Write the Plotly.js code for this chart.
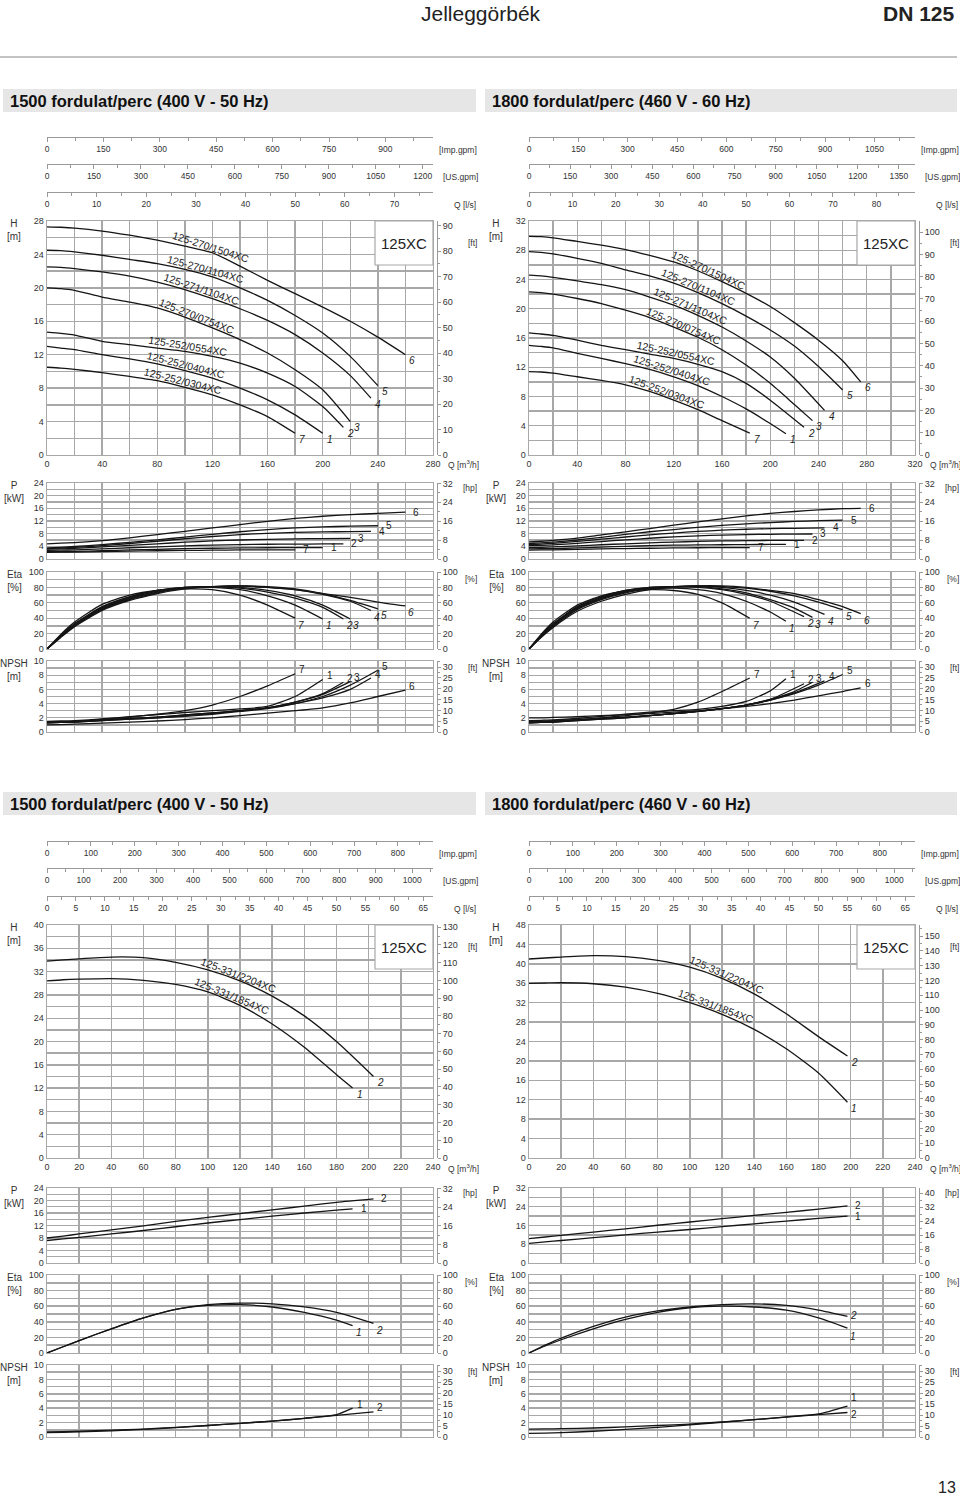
<!DOCTYPE html>
<html>
<head>
<meta charset="utf-8">
<script src="https://cdn.plot.ly/plotly-3.0.1.min.js"></script>
<style>
  body { margin: 0; background: #fff; }
  #chart { width: 960px; height: 1497px; }
</style>
</head>
<body>
<div id="chart"></div>
<script>
//----------------------------------DATA----------------------------------//

// curve numbers as printed at the curve ends
const ids27 = [1, 2, 3, 4, 5, 6, 7];
const names27 = ['125-252/0404XC', '125-252/0554XC', '125-270/0754XC', '125-271/1104XC',
                 '125-270/1104XC', '125-270/1504XC', '125-252/0304XC'];

// 1500 rpm (50 Hz) - Q [m3/h], H [m], P [kW], Eta [%], NPSH [m]
const q50 = [
  [0, 10, 20, 40, 60, 80, 100, 120, 140, 160, 180, 200],
  [0, 10, 20, 40, 60, 80, 100, 120, 140, 160, 180, 200, 215],
  [0, 10, 20, 40, 60, 80, 100, 120, 140, 160, 180, 200, 220],
  [0, 10, 20, 40, 60, 80, 100, 120, 140, 160, 180, 200, 220, 235],
  [0, 10, 20, 40, 60, 80, 100, 120, 140, 160, 180, 200, 220, 240],
  [0, 10, 20, 40, 60, 80, 100, 120, 140, 160, 180, 200, 220, 240, 260],
  [0, 10, 20, 40, 60, 80, 100, 120, 140, 160, 180]
];
const h50 = [
  [13.0, 12.8, 12.6, 12.0, 11.5, 10.9, 10.1, 9.2, 8.0, 6.6, 4.8, 2.6],
  [14.7, 14.55, 14.35, 13.6, 13.2, 12.8, 12.4, 11.8, 11.0, 9.8, 8.2, 5.8, 3.3],
  [20.0, 19.9, 19.7, 18.9, 18.3, 17.6, 16.5, 15.2, 13.8, 12.2, 10.2, 7.8, 4.0],
  [22.5, 22.45, 22.3, 21.9, 21.4, 20.7, 19.8, 18.7, 17.5, 16.1, 14.4, 12.2, 9.5, 6.8],
  [24.5, 24.45, 24.3, 23.9, 23.4, 22.9, 22.2, 21.3, 20.0, 18.5, 16.7, 14.6, 11.8, 8.3],
  [27.3, 27.25, 27.15, 26.8, 26.3, 25.7, 25.0, 24.2, 22.6, 20.9, 19.3, 17.7, 16.0, 14.1, 12.0],
  [10.5, 10.4, 10.25, 9.85, 9.4, 8.9, 8.1, 7.2, 6.0, 4.6, 2.6]
];
const p50 = [
  [2.3, 2.35, 2.4, 2.6, 2.85, 3.05, 3.25, 3.4, 3.5, 3.55, 3.6, 3.6],
  [2.7, 2.8, 2.9, 3.2, 3.55, 3.85, 4.15, 4.4, 4.55, 4.65, 4.7, 4.75, 4.8],
  [3.1, 3.2, 3.35, 3.8, 4.3, 4.8, 5.3, 5.7, 6.0, 6.2, 6.35, 6.45, 6.5],
  [3.3, 3.45, 3.65, 4.2, 4.9, 5.6, 6.4, 7.1, 7.7, 8.1, 8.4, 8.55, 8.65, 8.7],
  [3.5, 3.7, 3.95, 4.55, 5.25, 6.05, 6.9, 7.8, 8.6, 9.3, 9.8, 10.15, 10.35, 10.5],
  [4.8, 5.0, 5.2, 5.8, 6.7, 7.7, 8.75, 9.8, 10.85, 11.9, 12.8, 13.5, 14.0, 14.4, 14.8],
  [2.1, 2.15, 2.2, 2.35, 2.5, 2.6, 2.7, 2.8, 2.85, 2.9, 2.9]
];
const e50 = [
  [0, 18, 33, 55, 68, 76, 80, 80, 77, 69, 57, 39],
  [0, 17, 32, 54, 67, 76, 80, 81, 79, 74, 66, 54, 39],
  [0, 17, 31, 53, 66, 75, 80, 81, 80, 76, 69, 57, 39],
  [0, 16, 30, 52, 65, 74, 79, 81, 82, 80, 77, 71, 62, 50],
  [0, 16, 30, 51, 64, 73, 79, 81, 82, 81, 78, 72, 63, 52],
  [0, 15, 29, 50, 63, 72, 78, 81, 82, 80, 77, 72, 67, 61, 56],
  [0, 19, 35, 58, 70, 76, 78, 77, 70, 57, 40]
];
const n50 = [
  [1.5, 1.55, 1.6, 1.85, 2.15, 2.45, 2.75, 3.0, 3.25, 3.6, 5.0, 7.4],
  [1.4, 1.45, 1.5, 1.7, 1.9, 2.1, 2.4, 2.7, 3.0, 3.4, 4.2, 5.4, 7.0],
  [1.4, 1.45, 1.5, 1.7, 1.9, 2.1, 2.4, 2.7, 3.0, 3.4, 4.2, 5.3, 7.1],
  [1.3, 1.35, 1.4, 1.6, 1.8, 2.0, 2.3, 2.6, 3.0, 3.4, 4.0, 4.8, 6.0, 7.6],
  [1.3, 1.35, 1.4, 1.6, 1.8, 2.0, 2.2, 2.5, 2.9, 3.3, 4.0, 5.0, 6.6, 8.7],
  [1.0, 1.05, 1.1, 1.25, 1.4, 1.55, 1.75, 2.0, 2.3, 2.65, 3.0, 3.4, 4.1, 5.0, 5.9],
  [1.3, 1.35, 1.4, 1.8, 2.1, 2.5, 3.0, 3.8, 5.0, 6.5, 8.2]
];

// 1800 rpm (60 Hz)
const q60 = [
  [0, 10, 20, 40, 60, 80, 100, 120, 140, 160, 180, 200, 213],
  [0, 10, 20, 40, 60, 80, 100, 120, 140, 160, 180, 200, 228],
  [0, 10, 20, 40, 60, 80, 100, 120, 140, 160, 180, 200, 220, 235],
  [0, 10, 20, 40, 60, 80, 100, 120, 140, 160, 180, 200, 220, 245],
  [0, 10, 20, 40, 60, 80, 100, 120, 140, 160, 180, 200, 220, 240, 260],
  [0, 10, 20, 40, 60, 80, 100, 120, 140, 160, 180, 200, 220, 240, 260, 275],
  [0, 10, 20, 40, 60, 80, 100, 120, 140, 160, 183]
];
const h60 = [
  [15.0, 14.85, 14.65, 13.9, 13.2, 12.5, 11.7, 10.7, 9.5, 8.0, 6.3, 4.3, 2.9],
  [16.7, 16.55, 16.35, 15.7, 15.0, 14.4, 13.8, 13.2, 12.4, 11.4, 9.8, 7.5, 3.8],
  [22.3, 22.2, 22.0, 21.4, 20.7, 19.8, 18.8, 17.5, 16.1, 14.4, 12.3, 9.8, 6.9, 4.7],
  [24.6, 24.5, 24.3, 23.8, 23.3, 22.6, 21.6, 20.5, 19.1, 17.5, 15.6, 13.4, 10.5, 6.1],
  [27.8, 27.7, 27.5, 26.9, 26.2, 25.3, 24.5, 23.5, 22.2, 20.7, 19.0, 17.1, 14.9, 12.1, 8.9],
  [29.9, 29.85, 29.7, 29.2, 28.7, 28.1, 27.3, 26.4, 25.2, 23.7, 22.1, 20.3, 18.1, 15.7, 12.9, 10.0],
  [11.4, 11.35, 11.2, 10.7, 10.2, 9.6, 8.7, 7.5, 6.2, 4.7, 3.0]
];
const p60 = [
  [3.2, 3.25, 3.3, 3.5, 3.75, 4.0, 4.2, 4.35, 4.45, 4.5, 4.55, 4.6, 4.6],
  [3.6, 3.7, 3.8, 4.15, 4.5, 4.8, 5.1, 5.35, 5.55, 5.7, 5.8, 5.85, 5.9],
  [4.2, 4.3, 4.45, 4.95, 5.5, 6.05, 6.55, 7.0, 7.3, 7.55, 7.7, 7.8, 7.85, 7.9],
  [4.5, 4.7, 4.95, 5.55, 6.25, 6.95, 7.6, 8.2, 8.7, 9.1, 9.4, 9.6, 9.7, 9.8],
  [4.9, 5.1, 5.35, 6.0, 6.85, 7.75, 8.6, 9.3, 10.0, 10.6, 11.1, 11.5, 11.85, 12.1, 12.3],
  [5.4, 5.6, 5.9, 6.6, 7.6, 8.6, 9.6, 10.7, 11.7, 12.7, 13.6, 14.4, 15.0, 15.5, 15.9, 16.0],
  [2.8, 2.85, 2.9, 3.05, 3.2, 3.3, 3.4, 3.5, 3.55, 3.6, 3.6]
];
const e60 = [
  [0, 18, 33, 55, 68, 76, 79, 79, 77, 72, 62, 48, 36],
  [0, 17, 32, 54, 67, 76, 80, 81, 80, 77, 71, 62, 42],
  [0, 17, 31, 53, 66, 75, 80, 81, 81, 78, 73, 64, 53, 41],
  [0, 16, 30, 52, 65, 74, 79, 81, 82, 80, 76, 70, 61, 45],
  [0, 16, 29, 51, 64, 73, 78, 81, 82, 81, 79, 75, 69, 61, 51],
  [0, 15, 28, 49, 62, 71, 77, 80, 82, 82, 80, 76, 72, 64, 55, 46],
  [0, 19, 35, 57, 69, 75, 77, 76, 71, 60, 40]
];
const n60 = [
  [1.6, 1.65, 1.7, 1.9, 2.2, 2.5, 2.8, 3.0, 3.2, 3.6, 4.3, 5.8, 7.5],
  [1.3, 1.35, 1.4, 1.6, 1.8, 2.0, 2.3, 2.6, 2.9, 3.3, 3.8, 4.6, 6.8],
  [1.3, 1.35, 1.4, 1.6, 1.8, 2.0, 2.3, 2.6, 2.9, 3.3, 3.8, 4.6, 5.7, 7.0],
  [1.4, 1.45, 1.5, 1.7, 1.9, 2.1, 2.3, 2.6, 2.9, 3.3, 3.8, 4.5, 5.5, 7.2],
  [1.5, 1.55, 1.6, 1.75, 1.9, 2.1, 2.3, 2.6, 2.9, 3.3, 3.8, 4.5, 5.4, 6.6, 8.1],
  [2.0, 2.0, 2.05, 2.15, 2.3, 2.45, 2.6, 2.8, 3.0, 3.3, 3.6, 4.0, 4.5, 5.1, 5.7, 6.2],
  [1.3, 1.35, 1.4, 1.7, 2.0, 2.3, 2.7, 3.2, 4.2, 5.7, 7.6]
];

// 125-331 series
const ids331 = [1, 2];
const names331 = ['125-331/1854XC', '125-331/2204XC'];

const q50b = [
  [0, 10, 20, 40, 60, 80, 100, 120, 140, 160, 180, 190],
  [0, 10, 20, 40, 60, 80, 100, 120, 140, 160, 180, 203]
];
const h50b = [
  [30.4, 30.6, 30.7, 30.8, 30.5, 29.8, 28.5, 26.2, 23.0, 19.0, 14.3, 12.0],
  [33.8, 34.0, 34.2, 34.5, 34.4, 33.6, 32.3, 30.4, 27.8, 24.4, 20.0, 14.0]
];
const p50b = [
  [7.2, 7.7, 8.2, 9.3, 10.4, 11.6, 12.8, 13.9, 15.0, 16.0, 16.9, 17.3],
  [8.0, 8.6, 9.3, 10.6, 11.9, 13.3, 14.6, 15.8, 17.0, 18.2, 19.4, 20.5]
];
const e50b = [
  [0, 8, 16, 31, 45, 56, 61, 62, 59, 52, 42, 35],
  [0, 8, 16, 31, 45, 56, 62, 64, 63, 59, 52, 38]
];
const n50b = [
  [0.7, 0.75, 0.8, 0.95, 1.1, 1.35, 1.6, 1.9, 2.2, 2.6, 3.1, 4.0],
  [0.6, 0.65, 0.7, 0.85, 1.05, 1.3, 1.6, 1.9, 2.2, 2.6, 3.0, 3.5]
];

const q60b = [
  [0, 10, 20, 40, 60, 80, 100, 120, 140, 160, 180, 198],
  [0, 10, 20, 40, 60, 80, 100, 120, 140, 160, 180, 198]
];
const h60b = [
  [36.0, 36.05, 36.1, 35.9, 35.2, 33.9, 32.0, 29.6, 26.5, 22.5, 17.5, 11.5],
  [41.0, 41.2, 41.4, 41.7, 41.5, 40.7, 39.3, 37.0, 33.8, 29.7, 25.0, 21.0]
];
const p60b = [
  [8.4, 9.0, 9.6, 10.8, 12.0, 13.2, 14.3, 15.5, 16.7, 17.9, 19.0, 20.0],
  [10.4, 11.1, 11.8, 13.2, 14.6, 16.1, 17.5, 18.9, 20.3, 21.6, 23.0, 24.4]
];
const e60b = [
  [0, 9, 17, 31, 43, 52, 58, 60, 59, 55, 45, 32],
  [0, 10, 19, 34, 46, 54, 59, 62, 63, 61, 55, 47]
];
const n60b = [
  [0.5, 0.55, 0.6, 0.8, 1.05, 1.35, 1.7, 2.05, 2.4, 2.8, 3.2, 4.3],
  [1.1, 1.12, 1.15, 1.25, 1.4, 1.6, 1.8, 2.1, 2.4, 2.75, 3.1, 3.4]
];

// unit conversions for the secondary scales
const M3H_IMP = 3.6662, M3H_US = 4.4029, M3H_LS = 1 / 3.6;
const M_FT = 3.2808, KW_HP = 1.341;

//----------------------------------LAYOUT HELPERS----------------------------------//

const W = 960, HT = 1497;
const fx = v => v / W;
const fy = v => 1 - v / HT;
const GRID = '#a8a8a8', LINE = '#999', INK = '#151515', TXT = '#333';
const FONT = 'Liberation Sans, Arial, sans-serif';

const layout = {
  width: W, height: HT,
  margin: { l: 0, r: 0, t: 0, b: 0 },
  showlegend: false,
  paper_bgcolor: '#fff',
  plot_bgcolor: 'rgba(0,0,0,0)',
  font: { family: FONT, size: 9, color: TXT },
  annotations: [],
  shapes: []
};
const traces = [];
let nx = 0, ny = 0;
const axName = (k, i) => k + 'axis' + (i === 1 ? '' : i);
const axRef = (k, i) => k + (i === 1 ? '' : i);

function text(x, y, t, opt) {
  layout.annotations.push(Object.assign({
    xref: 'paper', yref: 'paper', x: fx(x), y: fy(y), text: t, showarrow: false,
    xanchor: 'center', yanchor: 'middle', font: { size: 9, color: TXT, family: FONT }
  }, opt || {}));
}

function interp(q, v, x) {
  for (let i = 1; i < q.length; i++) {
    if (x <= q[i]) {
      const t = (x - q[i - 1]) / (q[i] - q[i - 1]);
      return v[i - 1] + t * (v[i] - v[i - 1]);
    }
  }
  return v[v.length - 1];
}

// one grid chart with a left axis and a converted right axis
function chart(xl, xr, top, bot, c) {
  const xi = ++nx, yi = ++ny, ri = ++ny;
  const xa = {
    domain: [fx(xl), fx(xr)], anchor: axRef('y', yi), range: [0, c.xMax], tick0: 0, dtick: c.xDt,
    showticklabels: !!c.xLabels, ticks: '', showgrid: true, gridcolor: GRID, gridwidth: 1.4,
    showline: true, mirror: true, linecolor: GRID, linewidth: 1.4, zeroline: false,
    tickfont: { size: 9, color: TXT }, fixedrange: true
  };
  if (c.xMinor) xa.minor = { dtick: c.xMinor, showgrid: true, gridcolor: GRID, gridwidth: 1.4 };
  layout[axName('x', xi)] = xa;

  const ya = {
    domain: [fy(bot), fy(top)], anchor: axRef('x', xi), range: [0, c.yMax], tick0: 0, dtick: c.yDt,
    ticks: '', showgrid: true, gridcolor: GRID, gridwidth: 1.4, zeroline: false,
    showline: true, mirror: true, linecolor: GRID, linewidth: 1.4,
    tickfont: { size: 9, color: TXT }, fixedrange: true
  };
  if (c.yMinor) ya.minor = { dtick: c.yMinor, showgrid: true, gridcolor: GRID, gridwidth: 1.4 };
  layout[axName('y', yi)] = ya;

  layout[axName('y', ri)] = {
    overlaying: axRef('y', yi), side: 'right', anchor: 'free', position: fx(xr + 4),
    range: [0, c.yMax * c.conv], tick0: 0, dtick: c.rDt, showgrid: false, zeroline: false,
    showline: true, linecolor: LINE, linewidth: 1, ticks: 'outside', ticklen: 3, tickcolor: LINE,
    minor: { dtick: c.rMinor, ticks: 'outside', ticklen: 2, tickcolor: LINE },
    tickfont: { size: 9, color: TXT }, fixedrange: true
  };
  traces.push({ x: [], y: [], xaxis: axRef('x', xi), yaxis: axRef('y', ri), hoverinfo: 'skip' });

  return { x: axRef('x', xi), y: axRef('y', yi), kx: (xr - xl) / c.xMax, ky: (bot - top) / c.yMax };
}

// secondary flow scale (Imp.gpm, US.gpm, l/s) drawn as a bare axis line
function scale(xl, xr, yLine, max, dt, minor, label, lx) {
  const xi = ++nx, yi = ++ny;
  layout[axName('x', xi)] = {
    domain: [fx(xl), fx(xr)], anchor: axRef('y', yi), range: [0, max], tick0: 0, dtick: dt,
    showline: true, linecolor: LINE, linewidth: 1, ticks: 'outside', ticklen: 4, tickcolor: LINE,
    minor: { dtick: minor, ticks: 'outside', ticklen: 2.5, tickcolor: LINE },
    showgrid: false, zeroline: false, tickfont: { size: 8.5, color: TXT }, fixedrange: true
  };
  layout[axName('y', yi)] = {
    domain: [fy(yLine), fy(yLine) + 0.001], anchor: axRef('x', xi), visible: false, range: [0, 1], fixedrange: true
  };
  traces.push({ x: [], y: [], xaxis: axRef('x', xi), yaxis: axRef('y', yi), hoverinfo: 'skip' });
  text(lx, yLine + 13, label, { font: { size: 8.5, color: TXT, family: FONT } });
}

function curve(ax, q, v) {
  traces.push({
    type: 'scatter', mode: 'lines', x: q, y: v, xaxis: ax.x, yaxis: ax.y, hoverinfo: 'skip',
    line: { color: INK, width: 1.3, shape: 'spline', smoothing: 0.6 }
  });
}

function endLabel(ax, q, v, t, dx, dy, italic) {
  layout.annotations.push({
    xref: ax.x, yref: ax.y, x: q[q.length - 1], y: v[v.length - 1],
    text: italic ? '<i>' + t + '</i>' : String(t), showarrow: false,
    xshift: dx, yshift: dy, font: { size: 10, color: '#222', family: FONT }
  });
}

//----------------------------------PANEL----------------------------------//

function panel(P) {
  const off = P.xl > 300 ? 482 : 0;
  const r = P.rows;
  const cap = { size: 10, color: TXT, family: FONT };
  const unit = { size: 8.5, color: TXT, family: FONT };

  // flow scales on top
  scale(P.xl, P.xr, P.scaleY[0], P.xMax * M3H_IMP, P.impDt, P.impDt / 2, '[Imp.gpm]', 458 + off);
  scale(P.xl, P.xr, P.scaleY[1], P.xMax * M3H_US, P.usDt, P.usDt / 2, '[US.gpm]', 460 + off);
  scale(P.xl, P.xr, P.scaleY[2], P.xMax * M3H_LS, P.lsDt, P.lsMinor, 'Q [l/s]', 465 + off);

  const cH = chart(P.xl, P.xr, r.H[0], r.H[1], {
    xMax: P.xMax, xDt: P.xDt, xMinor: P.xMinor, xLabels: true,
    yMax: P.hMax, yDt: P.hDt, yMinor: P.hMinor, conv: M_FT, rDt: 10, rMinor: 5
  });
  const cP = chart(P.xl, P.xr, r.P[0], r.P[1], {
    xMax: P.xMax, xDt: P.gridX, yMax: P.pMax, yDt: P.pDt, yMinor: P.pMinor,
    conv: KW_HP, rDt: 8, rMinor: 4
  });
  const cE = chart(P.xl, P.xr, r.E[0], r.E[1], {
    xMax: P.xMax, xDt: P.gridX, yMax: 100, yDt: 20, yMinor: 10, conv: 1, rDt: 20, rMinor: 10
  });
  const cN = chart(P.xl, P.xr, r.N[0], r.N[1], {
    xMax: P.xMax, xDt: P.gridX, yMax: 10, yDt: 2, yMinor: 1, conv: M_FT, rDt: 5, rMinor: 2.5
  });

  // axis captions
  text(14 + off, r.H[0] + 9, 'H<br>[m]', { font: cap });
  text(14 + off, r.P[0] + 9, 'P<br>[kW]', { font: cap });
  text(14 + off, r.E[0] + 9, 'Eta<br>[%]', { font: cap });
  text(14 + off, r.N[0] + 9, 'NPSH<br>[m]', { font: cap });
  text(472 + off, r.H[0] + 22, '[ft]', { font: unit });
  text(470 + off, r.P[0] + 5, '[hp]', { font: unit });
  text(471 + off, r.E[0] + 7, '[%]', { font: unit });
  text(472 + off, r.N[0] + 7, '[ft]', { font: unit });
  text(P.xr + 13, r.H[1] + 10, 'Q [m<sup>3</sup>/h]', { xanchor: 'left', font: unit });

  // model box
  layout.shapes.push({
    type: 'rect', xref: 'paper', yref: 'paper', layer: 'above',
    x0: fx(P.xr - 58), x1: fx(P.xr), y0: fy(r.H[0] + 44), y1: fy(r.H[0]),
    fillcolor: '#fff', line: { color: GRID, width: 1.2 }
  });
  text(P.xr - 29, r.H[0] + 22, '125XC', { font: { size: 15, color: '#222', family: FONT } });

  // curves
  P.ids.forEach((id, i) => {
    const q = P.q[i];
    const nDy = P.nShift ? P.nShift[i] : 4;
    const eDy = P.eShift ? P.eShift[i] : -7;
    curve(cH, q, P.h[i]);
    curve(cP, q, P.p[i]);
    curve(cE, q, P.e[i]);
    curve(cN, q, P.n[i]);
    endLabel(cH, q, P.h[i], id, 7, -6, true);
    endLabel(cP, q, P.p[i], id, 11, 0, false);
    endLabel(cE, q, P.e[i], id, 6, eDy, true);
    endLabel(cN, q, P.n[i], id, 7, nDy, false);

    // model name along the H curve
    const qc = P.nameQ[i];
    const hc = interp(q, P.h[i], qc);
    const s = (interp(q, P.h[i], qc + 6) - interp(q, P.h[i], qc - 6)) / 12;
    const a = Math.atan(-s * cH.ky / cH.kx);
    const d = 5.5;
    layout.annotations.push({
      xref: cH.x, yref: cH.y, x: qc, y: hc, text: P.names[i], showarrow: false,
      textangle: a * 180 / Math.PI, xshift: d * Math.sin(a), yshift: d * Math.cos(a),
      font: { size: 10.5, color: '#222', family: FONT }
    });
  });
}

const topRows = { H: [221, 455], P: [483, 559], E: [572, 649], N: [661, 732] };
const botRows = { H: [925, 1158], P: [1188, 1263], E: [1275, 1353], N: [1365, 1437] };

panel({
  xl: 47, xr: 433, rows: topRows, scaleY: [137, 164, 192],
  xMax: 280, xDt: 40, xMinor: 20, gridX: 20, impDt: 150, usDt: 150, lsDt: 10, lsMinor: 5,
  hMax: 28, hDt: 4, hMinor: 2, pMax: 24, pDt: 4, pMinor: 2,
  ids: ids27, names: names27, q: q50, h: h50, p: p50, e: e50, n: n50,
  nameQ: [100, 102, 107, 111, 114, 118, 98]
});
panel({
  xl: 529, xr: 915, rows: topRows, scaleY: [137, 164, 192],
  xMax: 320, xDt: 40, xMinor: 20, gridX: 20, impDt: 150, usDt: 150, lsDt: 10, lsMinor: 5,
  hMax: 32, hDt: 4, hMinor: 2, pMax: 24, pDt: 4, pMinor: 2,
  ids: ids27, names: names27, q: q60, h: h60, p: p60, e: e60, n: n60,
  nameQ: [117, 121, 127, 132, 139, 147, 113]
});
panel({
  xl: 47, xr: 433, rows: botRows, scaleY: [841, 868, 896],
  xMax: 240, xDt: 20, xMinor: 0, gridX: 20, impDt: 100, usDt: 100, lsDt: 5, lsMinor: 2.5,
  hMax: 40, hDt: 4, hMinor: 2, pMax: 24, pDt: 4, pMinor: 2,
  ids: ids331, names: names331, q: q50b, h: h50b, p: p50b, e: e50b, n: n50b,
  nameQ: [114, 118]
});
panel({
  xl: 529, xr: 915, rows: botRows, scaleY: [841, 868, 896],
  xMax: 240, xDt: 20, xMinor: 0, gridX: 20, impDt: 100, usDt: 100, lsDt: 5, lsMinor: 2.5,
  hMax: 48, hDt: 4, hMinor: 0, pMax: 32, pDt: 8, pMinor: 4,
  ids: ids331, names: names331, q: q60b, h: h60b, p: p60b, e: e60b, n: n60b,
  nameQ: [115, 122], nShift: [9, -2], eShift: [-8, 1]
});

//----------------------------------PAGE HEADER----------------------------------//

text(481, 13, 'Jelleggörbék', { font: { size: 21, color: '#222', family: FONT } });
text(957, 13, '<b>DN 125</b>', { xanchor: 'right', font: { size: 21, color: '#222', family: FONT } });
layout.shapes.push({
  type: 'line', xref: 'paper', yref: 'paper', x0: 0, x1: fx(957), y0: fy(57), y1: fy(57),
  line: { color: '#888', width: 1 }
});

const bandFont = { size: 16.5, color: '#111', family: FONT };
[[89, 112], [792, 815]].forEach(([y0, y1]) => {
  [[3, 476, '1500 fordulat/perc (400 V - 50 Hz)'], [485, 957, '1800 fordulat/perc (460 V - 60 Hz)']].forEach(([x0, x1, t]) => {
    layout.shapes.push({
      type: 'rect', xref: 'paper', yref: 'paper', layer: 'below',
      x0: fx(x0), x1: fx(x1), y0: fy(y1), y1: fy(y0), fillcolor: '#e6e6e6', line: { width: 0 }
    });
    text(x0 + 5, (y0 + y1) / 2, '<b>' + t + '</b>', { xanchor: 'left', font: bandFont });
  });
});

text(947, 1487, '13', { font: { size: 16, color: '#222', family: FONT } });

Plotly.newPlot('chart', traces, layout, { displayModeBar: false, staticPlot: true });
</script>
</body>
</html>
